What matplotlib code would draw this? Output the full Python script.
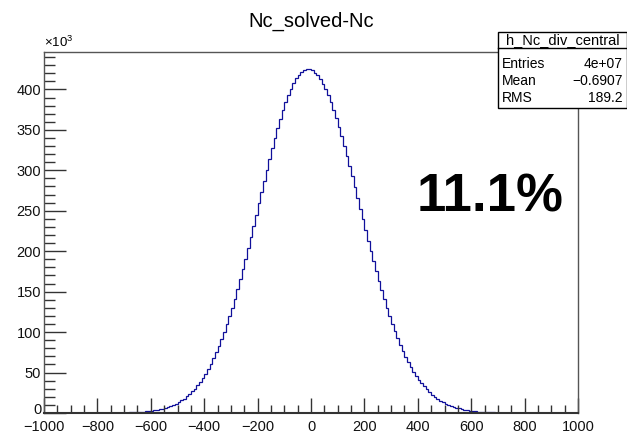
import numpy as np
import matplotlib
matplotlib.use("Agg")
import matplotlib.pyplot as plt
import matplotlib.transforms as mt
from matplotlib.ticker import MultipleLocator, FixedLocator
from matplotlib.patches import Rectangle
from matplotlib.lines import Line2D

plt.rcParams['font.family'] = ['Liberation Sans', 'DejaVu Sans']
plt.rcParams['mathtext.fontset'] = 'custom'
plt.rcParams['mathtext.rm'] = 'Liberation Sans'

# histogram h_Nc_div_central, counts in units of 10^3, bins of 10 from -1000 to 1000
x_lo, x_hi, bin_w = -1000, 1000, 10
zeros_left = [0.0] * 24          # -1000 .. -760
counts_left = [
    0.12, 0.14, 0.18, 0.23, 0.28,
    0.35, 0.43, 0.53, 0.64, 0.78,
    0.95, 1.14, 1.38, 1.65, 1.98,
    2.36, 2.81, 3.33, 3.94, 4.65,
    5.46, 6.40, 7.48, 8.72, 10.1,
    11.7, 13.6, 15.6, 17.9, 20.5,
    23.4, 26.6, 30.2, 34.2, 38.6,
    43.4, 48.7, 54.4, 60.7, 67.5,
    74.8, 82.6, 91.0, 100.0, 109.5,
    119.6, 130.2, 141.4, 153.0, 165.2,
    177.7, 190.6, 203.9, 217.5, 231.2,
    245.2, 259.2, 273.1, 287.0, 300.8,
    314.2, 327.3, 339.9, 351.9, 363.4,
    374.0, 383.9, 392.8, 400.8, 407.7,
    413.6, 418.2, 421.7, 423.9, 425.0,
]
counts_right = [
    424.7, 423.4, 420.9, 417.3, 412.6,
    406.9, 400.1, 392.5, 383.9, 374.6,
    364.5, 353.7, 342.3, 330.5, 318.1,
    305.5, 292.5, 279.3, 266.0, 252.6,
    239.2, 225.9, 212.8, 199.9, 187.4,
    175.1, 163.2, 151.7, 140.7, 130.1,
    120.0, 110.3, 101.2, 92.6, 84.4,
    76.8, 69.7, 63.1, 57.0, 51.3,
    46.0, 41.2, 36.8, 32.8, 29.1,
    25.7, 22.7, 20.0, 17.5, 15.4,
    13.5, 11.7, 10.2, 8.9, 7.7,
    6.6, 5.7, 4.9, 4.2, 3.6,
    3.0, 2.6, 2.2, 1.84, 1.55,
    1.30, 1.09, 0.91, 0.76, 0.63,
    0.52, 0.43, 0.35, 0.29, 0.24,
    0.19, 0.15, 0.12,
]
zeros_right = [0.0] * 23         # 770 .. 1000
counts = np.array(zeros_left + counts_left + counts_right + zeros_right)
edges = np.arange(x_lo, x_hi + bin_w, bin_w)
y_ticks = [0, 50, 100, 150, 200, 250, 300, 350, 400]

stats_name = "h_Nc_div_central"
stats_rows = [("Entries", "4e+07"), ("Mean", "\u22120.6907"), ("RMS", "189.2")]
title = "Nc_solved-Nc"
big_label = "11.1%"

W, H = 627, 434
fig = plt.figure(figsize=(W / 100, H / 100), dpi=100)
ax = fig.add_axes([44 / W, 1 - 413 / H, 534 / W, 361 / H])

ax.stairs(counts, edges, color='#10109a', lw=0.9)

ax.set_xlim(x_lo, x_hi)
ax.set_ylim(0, counts.max() * 1.05)
ax.xaxis.set_major_locator(MultipleLocator(200))
ax.xaxis.set_minor_locator(MultipleLocator(50))
ax.yaxis.set_major_locator(FixedLocator(y_ticks))
ax.yaxis.set_minor_locator(MultipleLocator(10))
ax.tick_params(axis='both', which='both', direction='in', top=False, right=False,
               colors='#333333', labelcolor='#111111', labelsize=10.5, width=1)
ax.tick_params(axis='x', which='major', length=11, pad=5)
ax.tick_params(axis='x', which='minor', length=5.5)
ax.tick_params(axis='y', which='major', length=16, pad=2)
ax.tick_params(axis='y', which='minor', length=8)
for s in ax.spines.values():
    s.set_color('#555555')
    s.set_linewidth(1)
ax.spines['bottom'].set_color('#333333')
ax.spines['bottom'].set_linewidth(1.5)

# nudge the "0" label up a little so it sits clear of "-1000", as in ROOT
lab0 = ax.yaxis.get_major_ticks()[0].label1
lab0.set_transform(lab0.get_transform() + mt.ScaledTranslation(0, 4 / 100, fig.dpi_scale_trans))

fig.text(44 / W, 1 - 50 / H, r'$\times10^{3}$', fontsize=9.5, ha='left', va='bottom')
fig.text(311 / W, 1 - 21 / H, title, fontsize=14.5, ha='center', va='center')
fig.text(490 / W, 1 - 197 / H, big_label, fontsize=38, fontweight='bold',
         ha='center', va='center')

# stats box
bx0, by0, bx1, by1 = 498, 32, 627, 108
fig.patches.append(Rectangle((bx0 / W, 1 - by1 / H), (bx1 - bx0) / W, (by1 - by0) / H,
                             transform=fig.transFigure, facecolor='white',
                             edgecolor='black', lw=1, zorder=5))
fig.lines.append(Line2D([bx0 / W, bx1 / W], [1 - 48 / H, 1 - 48 / H],
                        transform=fig.transFigure, color='black', lw=1, zorder=6))
fig.text((bx0 + bx1) / 2 / W, 1 - 40.5 / H, stats_name, fontsize=10.5,
         ha='center', va='center', zorder=7)
for i, (k, v) in enumerate(stats_rows):
    yy = 1 - (64 + 17 * i) / H
    fig.text(502 / W, yy, k, fontsize=10, ha='left', va='center', zorder=7)
    fig.text(623 / W, yy, v, fontsize=10, ha='right', va='center', zorder=7)

fig.savefig("out.png", dpi=100, facecolor='white')
